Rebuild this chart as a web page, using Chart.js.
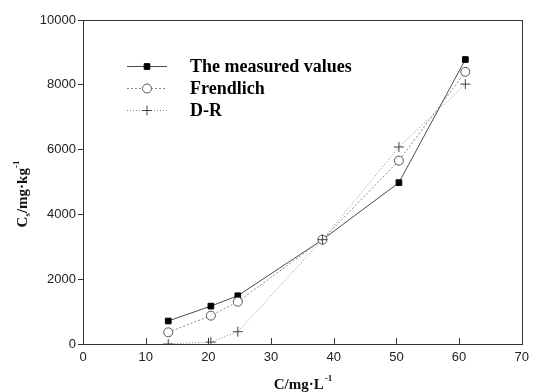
<!DOCTYPE html>
<html>
<head>
<meta charset="utf-8">
<script src="https://cdn.jsdelivr.net/npm/chart.js@4"></script>
<style>
  html, body { margin: 0; padding: 0; background: #fff; }
  #wrap { width: 535px; height: 392px; }
</style>
</head>
<body>
<div id="wrap"><canvas id="isotherm"></canvas></div>
<script>
// concentrations C (mg/L)
var concC = [13.6, 20.4, 24.7, 38.2, 50.4, 61.0];
// adsorbed amount Cs (mg/kg)
var measuredVals = [710, 1170, 1490, 3220, 4980, 8780];
var frendlichVals = [360, 875, 1305, 3220, 5660, 8400];
var drVals = [0, 60, 380, 3220, 6080, 8020];
var seriesNames = ["The measured values", "Frendlich", "D-R"];
var xTicks = [0, 10, 20, 30, 40, 50, 60, 70];
var yTicks = [0, 2000, 4000, 6000, 8000, 10000];

function pts(ys) {
  var out = [];
  for (var i = 0; i < concC.length; i++) out.push({x: concC[i], y: ys[i]});
  return out;
}

var styles = [
  {color: "#4a4a4a", dash: [], point: "rect", r: 4, fill: "#000", pborder: "#000"},
  {color: "#8a8a8a", dash: [2, 2], point: "circle", r: 4.5, fill: "#fff", pborder: "#555"},
  {color: "#8a8a8a", dash: [1, 2], point: "cross", r: 5, fill: "#fff", pborder: "#444"}
];
var allVals = [measuredVals, frendlichVals, drVals];

var datasets = [];
for (var k = 0; k < 3; k++) {
  var s = styles[k];
  datasets.push({
    label: seriesNames[k],
    data: pts(allVals[k]),
    showLine: true,
    borderColor: s.color,
    borderWidth: 1,
    borderDash: s.dash,
    pointStyle: s.point,
    pointRadius: s.r,
    pointBackgroundColor: s.fill,
    pointBorderColor: s.pborder,
    pointBorderWidth: 1,
    order: 3 - k
  });
}

var serif = "'Liberation Serif', 'Times New Roman', serif";
var sans = "'Liberation Sans', Arial, sans-serif";

// frame, inward x ticks, legend, axis titles
var decor = {
  id: "decor",
  afterDraw: function (chart) {
    var c = chart.ctx, a = chart.chartArea;
    var xs = chart.scales.x;
    c.save();
    c.strokeStyle = "#333";
    c.lineWidth = 1;
    c.strokeRect(Math.round(a.left) + 0.5, Math.round(a.top) + 0.5, Math.round(a.right - a.left), Math.round(a.bottom - a.top));
    // x ticks pointing inward
    c.beginPath();
    xTicks.forEach(function (t) {
      var px = Math.round(xs.getPixelForValue(t)) + 0.5;
      c.moveTo(px, a.bottom);
      c.lineTo(px, a.bottom - 6);
    });
    c.stroke();

    // legend
    var lx0 = 127, lx1 = 167, tx = 190;
    var rows = [66, 88, 110];
    for (var i = 0; i < 3; i++) {
      var s = styles[i], y = rows[i];
      c.strokeStyle = s.color;
      c.setLineDash(s.dash);
      c.beginPath();
      c.moveTo(lx0, y + 0.5);
      c.lineTo(lx1, y + 0.5);
      c.stroke();
      c.setLineDash([]);
      c.fillStyle = s.fill;
      c.strokeStyle = s.pborder;
      Chart.helpers.drawPoint(c, {pointStyle: s.point, radius: s.r, borderWidth: 1, rotation: 0}, (lx0 + lx1) / 2, y + 0.5);
      c.fillStyle = "#000";
      c.font = "bold 18px " + serif;
      c.textBaseline = "middle";
      c.textAlign = "left";
      c.fillText(seriesNames[i], tx, y + 1);
    }

    // x title: C/mg·L-1
    c.fillStyle = "#111";
    c.textBaseline = "alphabetic";
    var cx = (a.left + a.right) / 2;
    var main = "C/mg·L";
    c.font = "bold 15px " + serif;
    var w1 = c.measureText(main).width;
    c.font = "bold 9px " + serif;
    var w2 = c.measureText("-1").width;
    var startX = cx - (w1 + w2) / 2;
    c.font = "bold 15px " + serif;
    c.fillText(main, startX, 389);
    c.font = "bold 9px " + serif;
    c.fillText("-1", startX + w1 + 1, 381);

    // y title: Cs/mg·kg-1 rotated
    c.translate(27, 194);
    c.rotate(-Math.PI / 2);
    var parts = [
      {t: "C", f: "bold 15px ", dy: 0},
      {t: "s", f: "bold 9px ", dy: 3},
      {t: "/mg·kg", f: "bold 15px ", dy: 0},
      {t: "-1", f: "bold 9px ", dy: -8}
    ];
    var tot = 0;
    parts.forEach(function (p) { c.font = p.f + serif; p.w = c.measureText(p.t).width; tot += p.w; });
    var px = -tot / 2;
    parts.forEach(function (p) {
      c.font = p.f + serif;
      c.fillText(p.t, px, p.dy);
      px += p.w;
    });
    c.restore();
  }
};

new Chart(document.getElementById("isotherm"), {
  type: "scatter",
  data: {datasets: datasets},
  options: {
    responsive: true,
    maintainAspectRatio: false,
    animation: false,
    layout: {padding: {left: 0, top: 20, right: 7, bottom: 0}},
    plugins: {legend: {display: false}, tooltip: {enabled: false}},
    scales: {
      x: {
        type: "linear",
        min: 0, max: 70,
        afterBuildTicks: function (s) { s.ticks = xTicks.map(function (v) { return {value: v}; }); },
        afterFit: function (s) { s.height = 48; },
        grid: {display: true, drawOnChartArea: false, drawTicks: false},
        border: {display: false},
        ticks: {color: "#222", padding: 6, font: {family: sans, size: 13}, maxRotation: 0,
          callback: function (v) { return String(v); }}
      },
      y: {
        min: 0, max: 10000,
        afterBuildTicks: function (s) { s.ticks = yTicks.map(function (v) { return {value: v}; }); },
        afterFit: function (s) { s.width = 83; },
        grid: {drawOnChartArea: false, drawTicks: true, tickLength: 5, color: "#333"},
        border: {display: false},
        ticks: {color: "#222", padding: 2, font: {family: sans, size: 13},
          callback: function (v) { return String(v); }}
      }
    }
  },
  plugins: [decor]
});
</script>
</body>
</html>
